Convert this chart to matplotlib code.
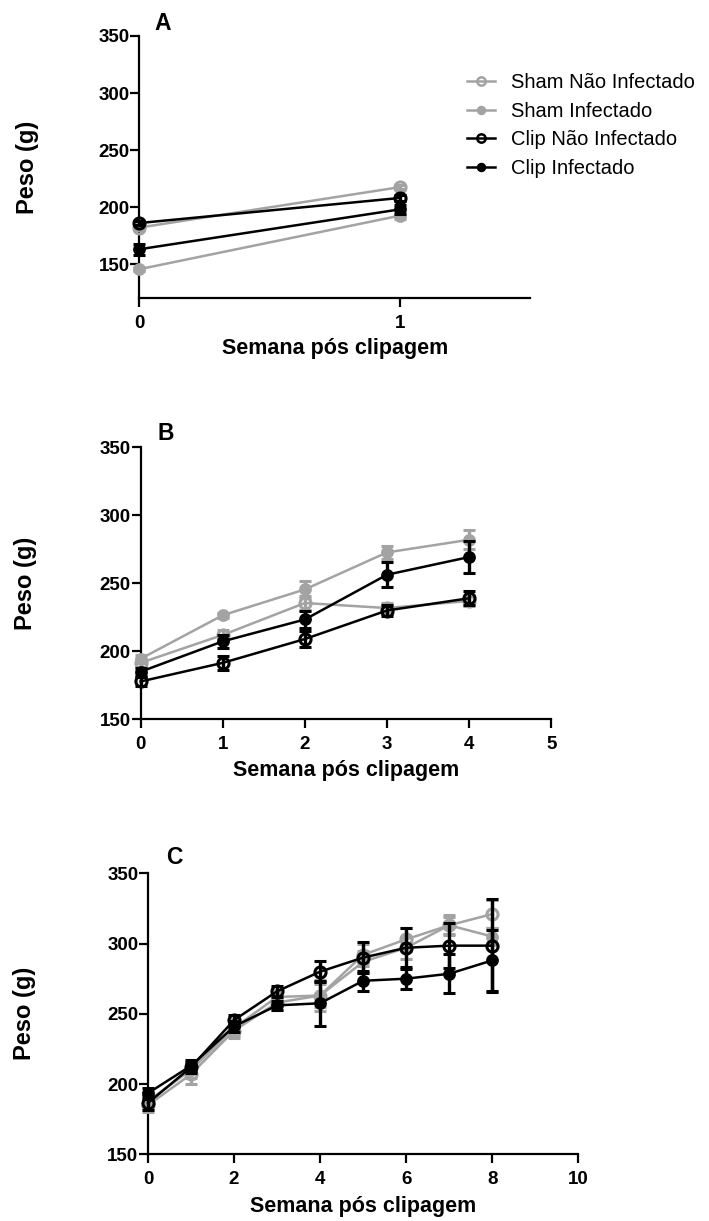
import matplotlib
matplotlib.use("Agg")
import matplotlib.pyplot as plt
from matplotlib.lines import Line2D

GREY = "#a3a3a3"
INK = "black"
W, H = 709, 1221

plt.rcParams.update({
    "font.family": ["Liberation Sans", "DejaVu Sans"],
    "font.weight": "bold",
    "axes.labelweight": "bold",
})

labels = ["Sham Não Infectado", "Sham Infectado", "Clip Não Infectado", "Clip Infectado"]
colors = [GREY, GREY, INK, INK]
filled = [False, True, False, True]

# ---- panel A: week 0-1
weeks_a = [0, 1]
a_sham_ni = [182, 217.5]
a_sham_ni_err = [2, 2]
a_sham_i = [145.5, 192.5]
a_sham_i_err = [2, 3]
a_clip_ni = [186, 208]
a_clip_ni_err = [2, 3]
a_clip_i = [163, 198]
a_clip_i_err = [5, 4]

# ---- panel B: week 0-4
weeks_b = [0, 1, 2, 3, 4]
b_sham_ni = [191.5, 212, 235.5, 231.8, 237]
b_sham_ni_err = [3, 4, 5, 4, 4]
b_sham_i = [194.5, 226.5, 245.5, 272.7, 282]
b_sham_i_err = [3, 2, 6, 5, 7]
b_clip_ni = [177.8, 191.5, 209, 230, 239]
b_clip_ni_err = [3, 5, 6, 4, 5]
b_clip_i = [185, 207.3, 223.4, 256.3, 269.3]
b_clip_i_err = [3, 5, 6, 9, 12]

# ---- panel C: week 0-8
weeks_c = [0, 1, 2, 3, 4, 5, 6, 7, 8]
c_sham_ni = [185, 207, 238, 258, 263, 292, 303, 313, 321]
c_sham_ni_err = [5, 7, 5, 5, 11, 8, 8, 6, 10]
c_sham_i = [188, 210, 240, 262, 263, 287, 297, 313, 305]
c_sham_i_err = [5, 6, 6, 5, 8, 8, 8, 7, 6]
c_clip_ni = [186.5, 212, 245.5, 266, 280, 290, 297, 298.5, 298.5]
c_clip_ni_err = [5, 4, 4, 4, 7.5, 11, 14, 16, 33]
c_clip_i = [193.5, 213, 241, 256, 257.5, 273.5, 275, 278.5, 288]
c_clip_i_err = [4, 4, 4, 3, 16, 7, 7, 14, 21.5]

yticks = [150, 200, 250, 300, 350]


def px_axes(fig, left, right, top, bottom):
    return fig.add_axes([left / W, 1 - bottom / H, (right - left) / W, (bottom - top) / H])


def plot_panel(ax, weeks, vals, errs):
    handles = []
    for i in range(4):
        c = colors[i]
        ms = 7 if filled[i] else 8
        z = 3 if c == GREY else 5
        mfc = c if filled[i] else "none"
        eb = ax.errorbar(weeks, vals[i], yerr=errs[i], color=c, lw=1.8,
                         elinewidth=2.4, capsize=4.5, capthick=2.4,
                         marker="o", ms=ms, mfc=mfc, mec=c, mew=2.2,
                         zorder=z, clip_on=False)
        for art in eb.get_children():
            art.set_clip_on(False)
        handles.append(Line2D([], [], color=c, lw=1.8, marker="o",
                              ms=ms - 2, mfc=mfc, mec=c, mew=1.8))
    return handles


def style(ax, xlim, xticks, ylim, w_px, h_px, xlab_off, ylab_off):
    ax.set_xlim(*xlim)
    ax.set_ylim(*ylim)
    ax.set_xticks(xticks)
    ax.set_yticks(yticks)
    for s in ("top", "right"):
        ax.spines[s].set_visible(False)
    for s in ("left", "bottom"):
        ax.spines[s].set_linewidth(1.6)
    ax.tick_params(axis="both", width=1.6, length=6.5, labelsize=13.5)
    ax.tick_params(axis="x", pad=5.5)
    ax.tick_params(axis="y", pad=0.5)
    ax.set_xlabel("Semana pós clipagem", fontsize=15.5)
    ax.set_ylabel("Peso (g)", fontsize=17)
    ax.xaxis.label.set_va("center")
    ax.yaxis.label.set_va("center")
    ax.xaxis.set_label_coords(0.5, -xlab_off / h_px)
    ax.yaxis.set_label_coords(-ylab_off / w_px, 0.5)


fig = plt.figure(figsize=(W / 100, H / 100), dpi=100)

ax_a = px_axes(fig, 139.3, 530.4, 36, 298.3)
handles = plot_panel(ax_a, weeks_a, [a_sham_ni, a_sham_i, a_clip_ni, a_clip_i],
                     [a_sham_ni_err, a_sham_i_err, a_clip_ni_err, a_clip_i_err])
style(ax_a, (0, 1.5), [0, 1], (120, 350), 391.1, 262.3, 50.5, 112)

ax_b = px_axes(fig, 140.6, 551.2, 447.3, 719.3)
plot_panel(ax_b, weeks_b, [b_sham_ni, b_sham_i, b_clip_ni, b_clip_i],
           [b_sham_ni_err, b_sham_i_err, b_clip_ni_err, b_clip_i_err])
style(ax_b, (0, 5), [0, 1, 2, 3, 4, 5], (150, 350), 410.6, 272, 51, 115)

ax_c = px_axes(fig, 148, 578.3, 873.3, 1154.3)
plot_panel(ax_c, weeks_c, [c_sham_ni, c_sham_i, c_clip_ni, c_clip_i],
           [c_sham_ni_err, c_sham_i_err, c_clip_ni_err, c_clip_i_err])
style(ax_c, (0, 10), [0, 2, 4, 6, 8, 10], (150, 350), 430.3, 281, 52.4, 123)

for x, y, t in ((162.5, 24, "A"), (165.4, 433.3, "B"), (173.9, 857, "C")):
    fig.text(x / W, 1 - y / H, t, fontsize=16.5, fontweight="bold",
             ha="center", va="center")

fig.legend(handles, labels, loc="upper left",
           bbox_to_anchor=(466.7 / W, 1 - 73 / H), bbox_transform=fig.transFigure,
           frameon=False, borderpad=0, borderaxespad=0, handlelength=1.4,
           handletextpad=0.8, labelspacing=0.48,
           prop={"family": "Liberation Sans", "weight": "normal", "size": 14.5})

fig.savefig("out.png", dpi=100)
